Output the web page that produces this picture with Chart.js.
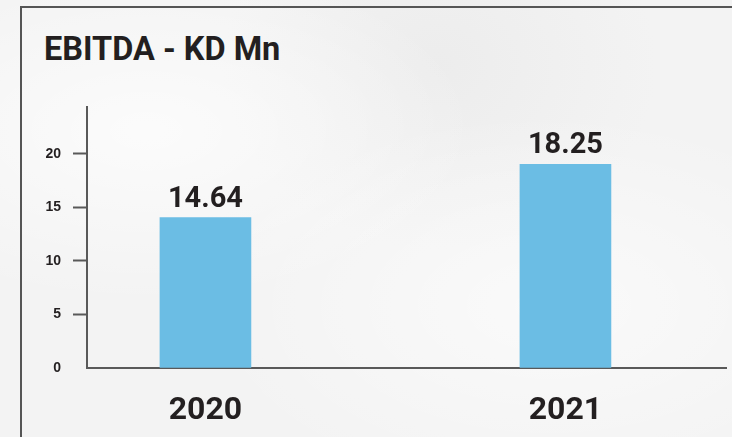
<!DOCTYPE html>
<html>
<head>
<meta charset="utf-8">
<script src="https://cdn.jsdelivr.net/npm/chart.js@4.4.1/dist/chart.umd.min.js"></script>
<style>
  html, body { margin: 0; padding: 0; }
  body {
    width: 732px; height: 437px; overflow: hidden; position: relative;
    background: #f3f3f3;
    background-image:
      radial-gradient(ellipse at 20% 30%, rgba(255,255,255,0.7), rgba(255,255,255,0) 40%),
      radial-gradient(ellipse at 75% 70%, rgba(255,255,255,0.6), rgba(255,255,255,0) 45%),
      radial-gradient(ellipse at 60% 15%, rgba(230,230,230,0.5), rgba(230,230,230,0) 35%);
  }
  .frame {
    position: absolute; left: 20px; top: 6px; width: 760px; height: 480px;
    border-left: 2px solid #555; border-top: 2px solid #555;
  }
  .title {
    position: absolute; left: 44px; top: 29px;
    font-family: Roboto, sans-serif; font-weight: 700; font-size: 32.5px;
    color: #231f20; line-height: 40px; white-space: nowrap;
  }
  #wrap { position: absolute; left: 0; top: 0; width: 732px; height: 437px; }
</style>
</head>
<body>
<div class="frame"></div>
<div class="title">EBITDA - KD Mn</div>
<div id="wrap"><canvas id="myChart"></canvas></div>
<script>
// data
var categories = ['2020', '2021'];
var barHeights = [14.05, 19.03];      // bar tops as drawn
var valueLabels = ['14.64', '18.25']; // numbers printed above the bars
var yTicks = [0, 5, 10, 15, 20];

var axisGray = '#595959';

// labels above bars
const barLabels = {
  id: 'barLabels',
  afterDatasetsDraw(chart) {
    const ctx = chart.ctx;
    const meta = chart.getDatasetMeta(0);
    ctx.save();
    ctx.font = '700 29px Roboto, sans-serif';
    ctx.fillStyle = '#231f20';
    ctx.textAlign = 'center';
    ctx.textBaseline = 'alphabetic';
    meta.data.forEach((bar, i) => {
      ctx.fillText(valueLabels[i], bar.x, bar.y - 11);
    });
    ctx.restore();
  }
};

const ctx = document.getElementById('myChart').getContext('2d');
const myChart = new Chart(ctx, {
  type: 'bar',
  data: {
    datasets: [{
      data: categories.map((c, i) => ({ x: i, y: barHeights[i] })),
      backgroundColor: '#6bbde4',
      barThickness: 91
    }]
  },
  options: {
    responsive: true,
    maintainAspectRatio: false,
    animation: false,
    layout: { padding: { left: 0, top: 107, right: 6, bottom: 0 } },
    plugins: { legend: { display: false }, tooltip: { enabled: false } },
    scales: {
      x: {
        type: 'linear',
        offset: false,
        bounds: 'data',
        min: -0.329,
        max: 1.446,
        z: 1,
        afterBuildTicks: s => { s.ticks = categories.map((c, i) => ({ value: i })); },
        afterFit: s => { s.height = 69; },
        grid: { display: false, drawTicks: false, offset: false },
        border: { display: true, color: axisGray, width: 2 },
        ticks: {
          callback: v => categories[v],
          padding: 24,
          color: '#231f20',
          font: { family: 'Roboto', weight: '700', size: 32 }
        }
      },
      y: {
        min: 0,
        max: 24.39,
        z: 1,
        afterBuildTicks: s => { s.ticks = yTicks.map(v => ({ value: v })); },
        afterFit: s => { s.width = 87; },
        grid: {
          drawOnChartArea: false,
          tickLength: 14,
          tickWidth: 2,
          tickColor: c => c.tick && c.tick.value === 0 ? 'rgba(0,0,0,0)' : axisGray
        },
        border: { display: true, color: axisGray, width: 2 },
        ticks: {
          padding: 12,
          color: '#231f20',
          font: { family: 'Liberation Sans', weight: '700', size: 14 }
        }
      }
    }
  },
  plugins: [barLabels]
});
</script>
</body>
</html>
